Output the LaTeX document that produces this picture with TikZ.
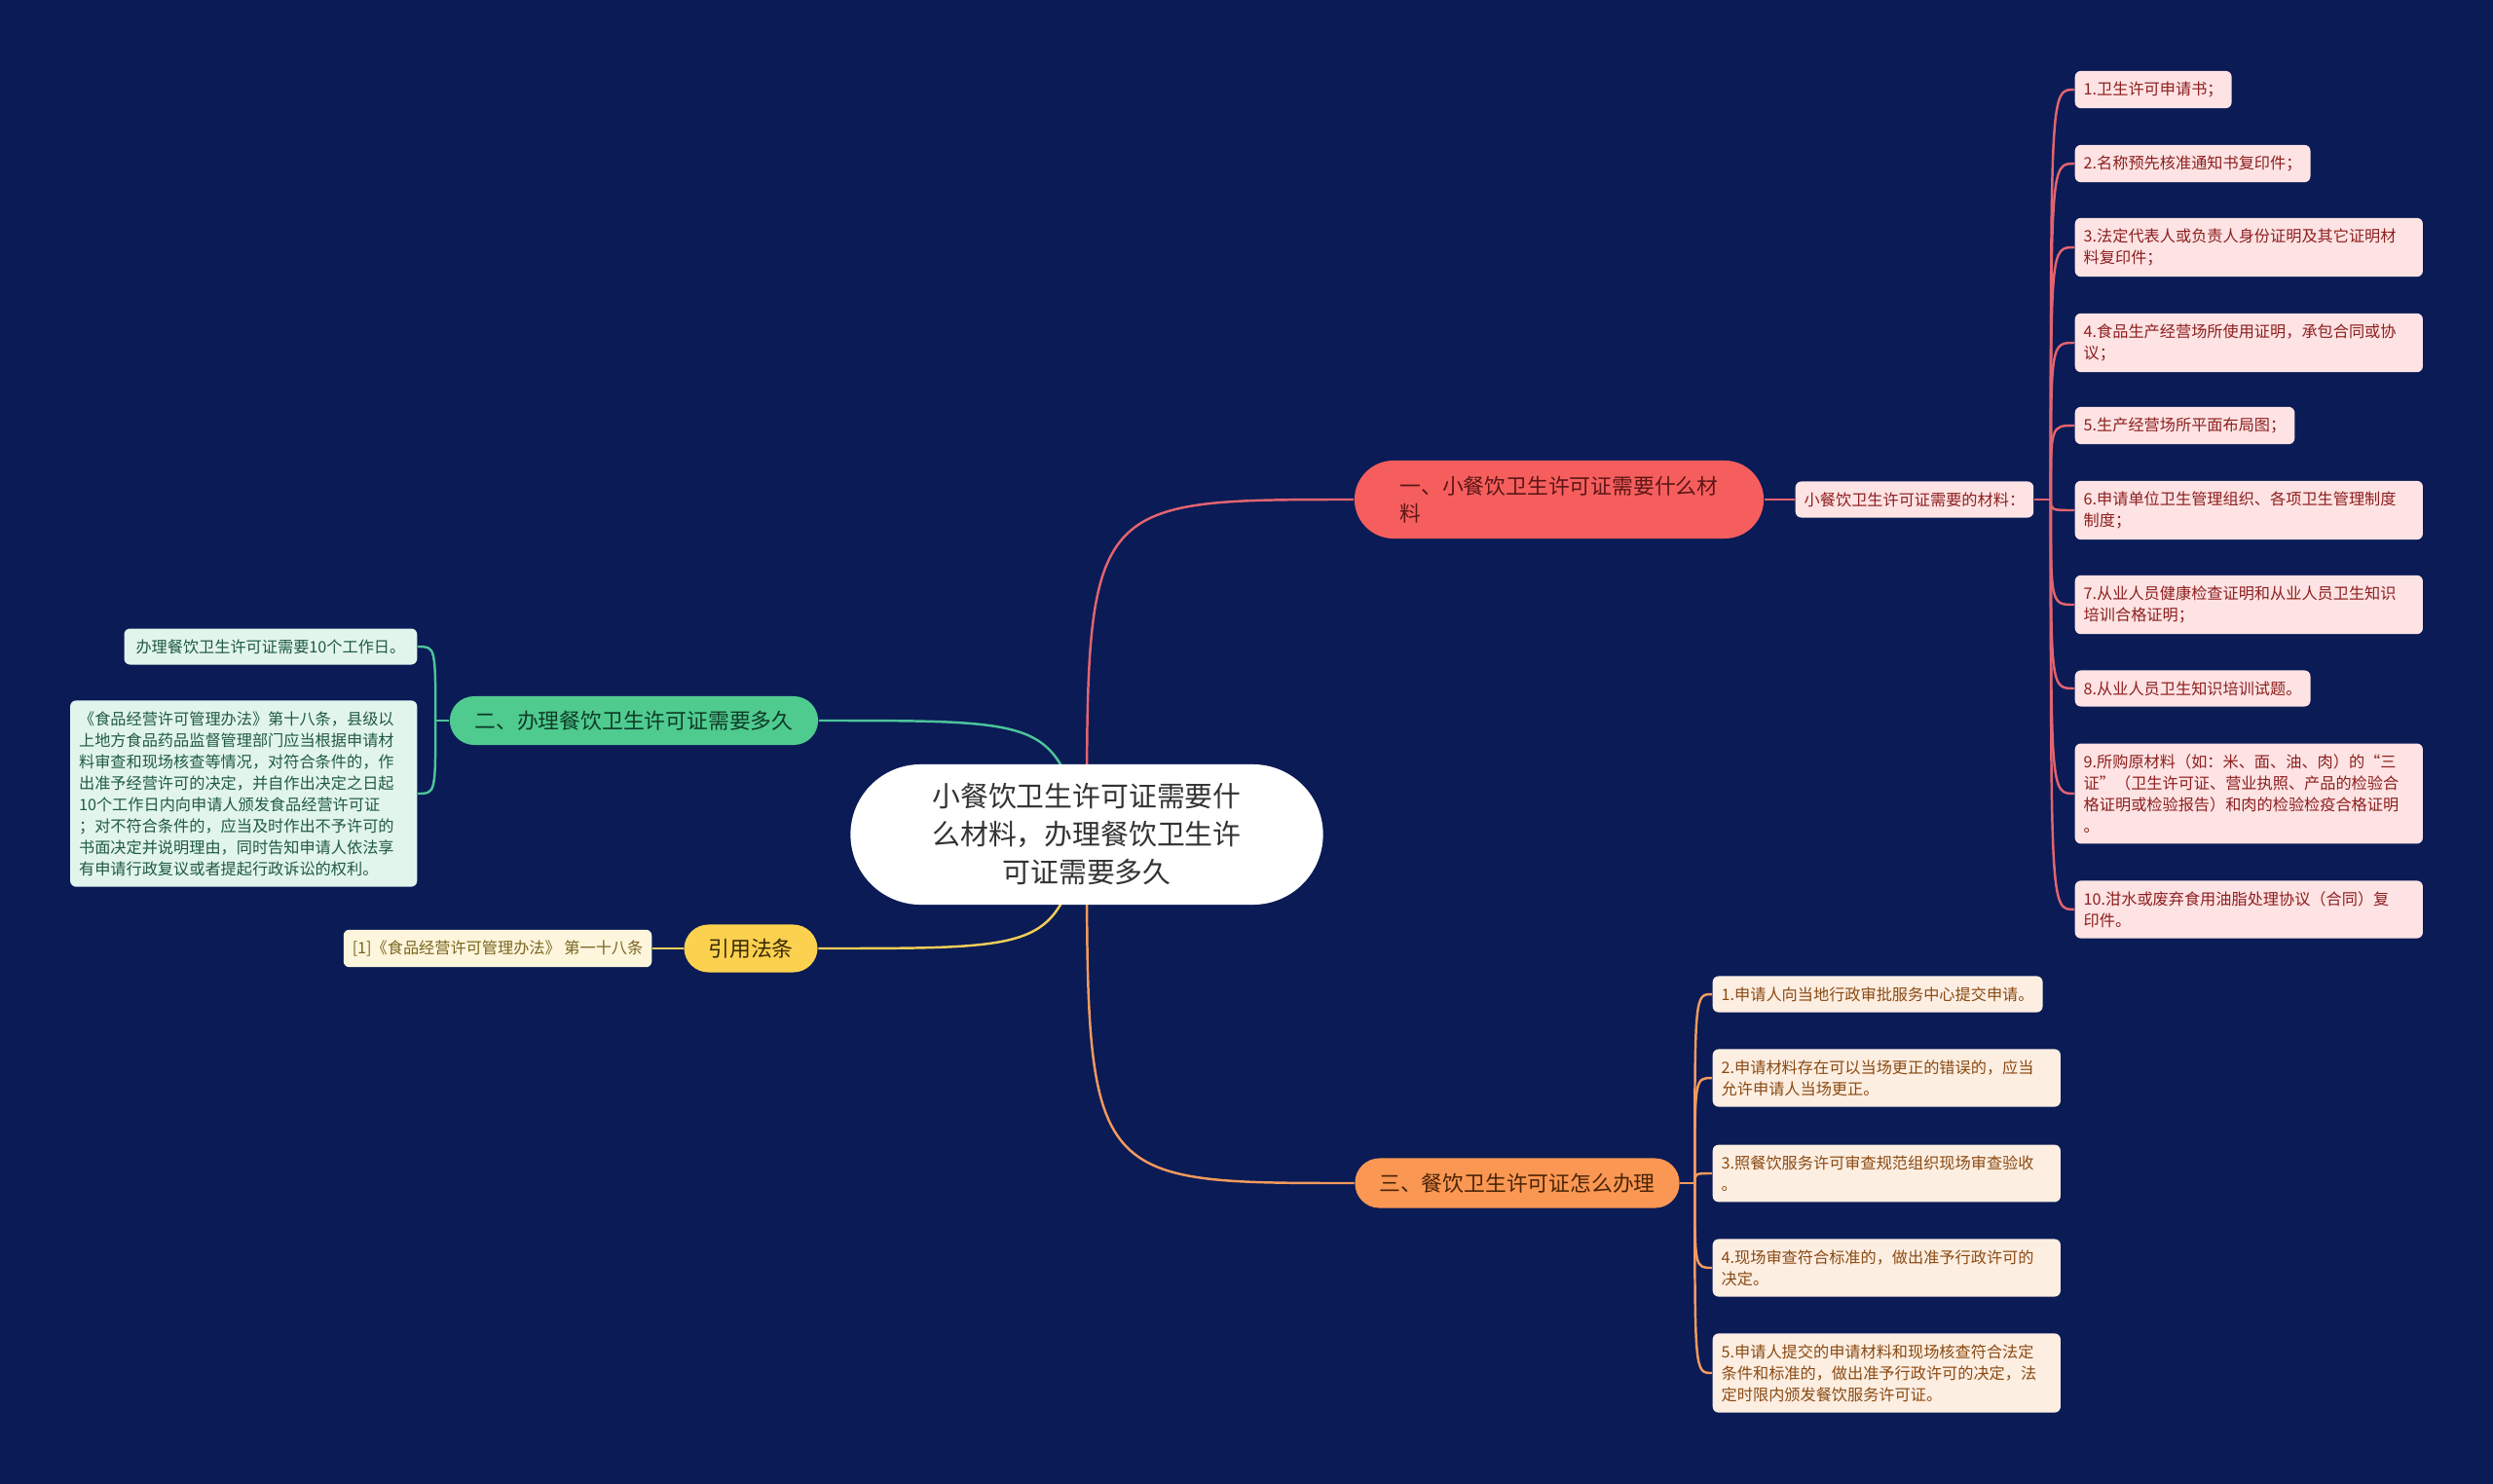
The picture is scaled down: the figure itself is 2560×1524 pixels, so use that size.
\documentclass[tikz,border=0pt]{standalone}
\usepackage{fontspec}
\newfontfamily\cjk{Noto Sans CJK SC}
\usetikzlibrary{calc}
\definecolor{bgnavy}{HTML}{0A1B56}
\definecolor{redfill}{HTML}{F65E5E}
\definecolor{redline}{HTML}{E3646F}
\definecolor{redtext}{HTML}{5C1616}
\definecolor{redleaf}{HTML}{FDE3E3}
\definecolor{redleaftext}{HTML}{8E1F1F}
\definecolor{greenfill}{HTML}{4FCB8F}
\definecolor{greenline}{HTML}{4CC39A}
\definecolor{greentext}{HTML}{0F3B27}
\definecolor{greenleaf}{HTML}{E2F5EC}
\definecolor{greenleaftext}{HTML}{1F5A42}
\definecolor{yellowfill}{HTML}{FBD14F}
\definecolor{yellowline}{HTML}{F3CE58}
\definecolor{yellowtext}{HTML}{3A2A05}
\definecolor{yellowleaf}{HTML}{FDF6DC}
\definecolor{yellowleaftext}{HTML}{7A6420}
\definecolor{orangefill}{HTML}{FA9752}
\definecolor{orangeline}{HTML}{F49A5C}
\definecolor{orangetext}{HTML}{4A2408}
\definecolor{orangeleaf}{HTML}{FDEEE2}
\definecolor{orangeleaftext}{HTML}{8A4A12}
\pgfdeclarelayer{background}
\pgfsetlayers{background,main}

\begin{document}
\begin{tikzpicture}[x=0.01cm, y=-0.01cm,
        root/.style={fill=white, text=black!80, rounded corners=0.72cm, minimum width=4.85cm, minimum height=1.44cm, align=center, font=\cjk\fontsize{8.2pt}{11.1pt}\selectfont},
        branch/.style={rounded corners=0.25cm, inner xsep=0pt, align=left, font=\cjk\fontsize{6.2pt}{8pt}\selectfont},
        leaf/.style={rounded corners=0.06cm, inner xsep=0.09cm, inner ysep=0.11cm, align=left, font=\cjk\fontsize{4.6pt}{6.26pt}\selectfont},
        wide/.style={text width=3.39cm},
        link/.style={line width=0.7pt},
    ]
    \node[root] (root) at (1116, 857) {小餐饮卫生许可证需要什\\么材料，办理餐饮卫生许\\可证需要多久};
    % Red branch
    \node[branch, fill=redfill, text=redtext, minimum width=4.2cm, minimum height=0.8cm, rounded corners=0.4cm] (b1) at (1601, 513)
        {一、小餐饮卫生许可证需要什么材\\料};
    \node[leaf, fill=redleaf, text=redleaftext, anchor=west] (rc) at (1843, 513) {小餐饮卫生许可证需要的材料：};
    \node[leaf, fill=redleaf, text=redleaftext, anchor=west] (r1) at (2130, 92) {1.卫生许可申请书；};
    \node[leaf, fill=redleaf, text=redleaftext, anchor=west] (r2) at (2130, 168) {2.名称预先核准通知书复印件；};
    \node[leaf, wide, fill=redleaf, text=redleaftext, anchor=west] (r3) at (2130, 254)
        {3.法定代表人或负责人身份证明及其它证明材\\料复印件；};
    \node[leaf, wide, fill=redleaf, text=redleaftext, anchor=west] (r4) at (2130, 352)
        {4.食品生产经营场所使用证明，承包合同或协\\议；};
    \node[leaf, fill=redleaf, text=redleaftext, anchor=west] (r5) at (2130, 437) {5.生产经营场所平面布局图；};
    \node[leaf, wide, fill=redleaf, text=redleaftext, anchor=west] (r6) at (2130, 524)
        {6.申请单位卫生管理组织、各项卫生管理制度\\制度；};
    \node[leaf, wide, fill=redleaf, text=redleaftext, anchor=west] (r7) at (2130, 621)
        {7.从业人员健康检查证明和从业人员卫生知识\\培训合格证明；};
    \node[leaf, fill=redleaf, text=redleaftext, anchor=west] (r8) at (2130, 707) {8.从业人员卫生知识培训试题。};
    \node[leaf, wide, fill=redleaf, text=redleaftext, anchor=west] (r9) at (2130, 815)
        {9.所购原材料（如：米、面、油、肉）的“三\\证”（卫生许可证、营业执照、产品的检验合\\格证明或检验报告）和肉的检验检疫合格证明\\。};
    \node[leaf, wide, fill=redleaf, text=redleaftext, anchor=west] (r10) at (2130, 934)
        {10.泔水或废弃食用油脂处理协议（合同）复\\印件。};
    \coordinate (rhub) at ($(rc.east)+(17,0)$);
    % Green branch
    \node[branch, fill=greenfill, text=greentext, minimum width=3.78cm, minimum height=0.5cm] (b2) at (651, 740)
        {二、办理餐饮卫生许可证需要多久};
    \node[leaf, fill=greenleaf, text=greenleaftext, anchor=east, inner xsep=0.12cm] (g1) at (429, 664) {办理餐饮卫生许可证需要10个工作日。};
    \node[leaf, fill=greenleaf, text=greenleaftext, anchor=east, text width=3.38cm] (g2) at (429, 815)
        {《食品经营许可管理办法》第十八条，县级以\\上地方食品药品监督管理部门应当根据申请材\\料审查和现场核查等情况，对符合条件的，作\\出准予经营许可的决定，并自作出决定之日起\\10个工作日内向申请人颁发食品经营许可证\\；对不符合条件的，应当及时作出不予许可的\\书面决定并说明理由，同时告知申请人依法享\\有申请行政复议或者提起行政诉讼的权利。};
    \coordinate (ghub) at ($(b2.west)+(-14,0)$);
    % Yellow branch
    \node[branch, fill=yellowfill, text=yellowtext, minimum width=1.37cm, minimum height=0.49cm] (b4) at (771, 974) {引用法条};
    \node[leaf, fill=yellowleaf, text=yellowleaftext, anchor=east] (y1) at (670, 974) {[1]《食品经营许可管理办法》 第一十八条};
    % Orange branch
    \node[branch, fill=orangefill, text=orangetext, minimum width=3.33cm, minimum height=0.51cm] (b3) at (1558, 1215)
        {三、餐饮卫生许可证怎么办理};
    \node[leaf, fill=orangeleaf, text=orangeleaftext, anchor=west] (o1) at (1758, 1021) {1.申请人向当地行政审批服务中心提交申请。};
    \node[leaf, wide, fill=orangeleaf, text=orangeleaftext, anchor=west] (o2) at (1758, 1107)
        {2.申请材料存在可以当场更正的错误的，应当\\允许申请人当场更正。};
    \node[leaf, wide, fill=orangeleaf, text=orangeleaftext, anchor=west] (o3) at (1758, 1205)
        {3.照餐饮服务许可审查规范组织现场审查验收\\。};
    \node[leaf, wide, fill=orangeleaf, text=orangeleaftext, anchor=west] (o4) at (1758, 1302)
        {4.现场审查符合标准的，做出准予行政许可的\\决定。};
    \node[leaf, wide, fill=orangeleaf, text=orangeleaftext, anchor=west] (o5) at (1758, 1410)
        {5.申请人提交的申请材料和现场核查符合法定\\条件和标准的，做出准予行政许可的决定，法\\定时限内颁发餐饮服务许可证。};
    \coordinate (ohub) at ($(b3.east)+(15,0)$);
    % connectors under the nodes
    \begin{pgfonlayer}{background}
        \fill[bgnavy] (0, 0) rectangle (2560, 1524);
        \draw[link, redline] (root.center) .. controls (root.center |- b1.west) .. (b1.west);
        \draw[link, redline] (b1.east) -- (rc.west);
        \draw[link, redline] (rc.east) -- (rhub);
        \foreach \i in {1,...,10}
            \draw[link, redline] (rhub) .. controls (rhub |- r\i.west) .. (r\i.west);
        \draw[link, greenline] (root.center) .. controls ($(root.center |- b2.east)+(-36,0)$) .. (b2.east);
        \draw[link, greenline] (b2.west) -- (ghub);
        \foreach \i in {1,2}
            \draw[link, greenline] (ghub) .. controls (ghub |- g\i.east) .. (g\i.east);
        \draw[link, yellowline] (root.center) .. controls ($(root.center |- b4.east)+(-36,0)$) .. (b4.east);
        \draw[link, yellowline] (b4.west) -- (y1.east);
        \draw[link, orangeline] (root.center) .. controls (root.center |- b3.west) .. (b3.west);
        \draw[link, orangeline] (b3.east) -- (ohub);
        \foreach \i in {1,...,5}
            \draw[link, orangeline] (ohub) .. controls (ohub |- o\i.west) .. (o\i.west);
    \end{pgfonlayer}
\end{tikzpicture}
\end{document}
